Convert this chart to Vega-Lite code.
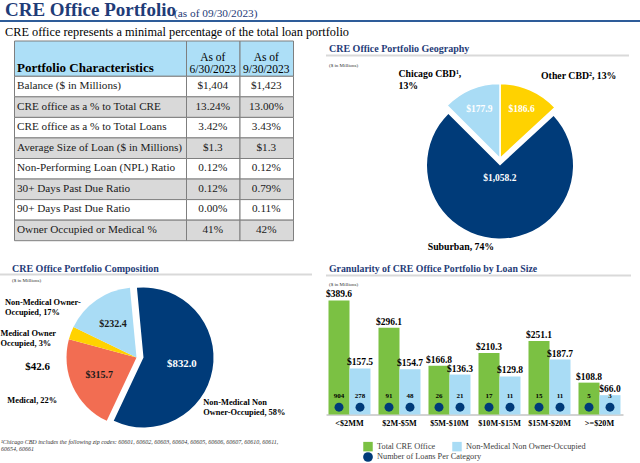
{
  "$schema": "https://vega.github.io/schema/vega-lite/v6.json",
  "background": "white",
  "padding": 0,
  "config": {
    "view": {"stroke": null},
    "font": "Liberation Serif",
    "title": {"font": "Liberation Serif", "anchor": "start", "color": "#1F3C78", "fontWeight": "bold", "fontSize": 10, "offset": 3, "baseline": "alphabetic", "frame": "group"},
    "text": {"font": "Liberation Serif"}
  },
  "datasets": {
    "cells": [
      {"row": 0, "col": 0, "text": "Portfolio Characteristics"},
      {"row": 0, "col": 1, "text": "As of\n6/30/2023"},
      {"row": 0, "col": 2, "text": "As of\n9/30/2023"},
      {"row": 1, "col": 0, "text": "Balance ($ in Millions)"},
      {"row": 1, "col": 1, "text": "$1,404"},
      {"row": 1, "col": 2, "text": "$1,423"},
      {"row": 2, "col": 0, "text": "CRE office as a % to Total CRE"},
      {"row": 2, "col": 1, "text": "13.24%"},
      {"row": 2, "col": 2, "text": "13.00%"},
      {"row": 3, "col": 0, "text": "CRE office as a % to Total Loans"},
      {"row": 3, "col": 1, "text": "3.42%"},
      {"row": 3, "col": 2, "text": "3.43%"},
      {"row": 4, "col": 0, "text": "Average Size of Loan ($ in Millions)"},
      {"row": 4, "col": 1, "text": "$1.3"},
      {"row": 4, "col": 2, "text": "$1.3"},
      {"row": 5, "col": 0, "text": "Non-Performing Loan (NPL) Ratio"},
      {"row": 5, "col": 1, "text": "0.12%"},
      {"row": 5, "col": 2, "text": "0.12%"},
      {"row": 6, "col": 0, "text": "30+ Days Past Due Ratio"},
      {"row": 6, "col": 1, "text": "0.12%"},
      {"row": 6, "col": 2, "text": "0.79%"},
      {"row": 7, "col": 0, "text": "90+ Days Past Due Ratio"},
      {"row": 7, "col": 1, "text": "0.00%"},
      {"row": 7, "col": 2, "text": "0.11%"},
      {"row": 8, "col": 0, "text": "Owner Occupied or Medical %"},
      {"row": 8, "col": 1, "text": "41%"},
      {"row": 8, "col": 2, "text": "42%"}
    ],
    "geo": [
      {"cat": "Other CBD", "value": 186.6, "ord": 1, "val": "$186.6", "lab": "Other CBD², 13%"},
      {"cat": "Suburban", "value": 1058.2, "ord": 2, "val": "$1,058.2", "lab": "Suburban, 74%"},
      {"cat": "Chicago CBD", "value": 177.9, "ord": 3, "val": "$177.9", "lab": "Chicago CBD¹,\n13%"}
    ],
    "comp": [
      {"cat": "Non-Medical Non Owner-Occupied", "value": 832.0, "ord": 1, "val": "$832.0", "lab": "Non-Medical Non\nOwner-Occupied, 58%"},
      {"cat": "Medical", "value": 315.7, "ord": 2, "val": "$315.7", "lab": "Medical, 22%"},
      {"cat": "Medical Owner Occupied", "value": 42.6, "ord": 3, "val": "$42.6", "lab": "Medical Owner\nOccupied, 3%"},
      {"cat": "Non-Medical Owner-Occupied", "value": 232.4, "ord": 4, "val": "$232.4", "lab": "Non-Medical Owner-\nOccupied, 17%"}
    ],
    "bars": [
      {"size": "<$2MM", "series": "Total CRE Office", "value": 389.6, "n": 904},
      {"size": "<$2MM", "series": "Non-Medical Non Owner-Occupied", "value": 157.5, "n": 278},
      {"size": "$2M-$5M", "series": "Total CRE Office", "value": 296.1, "n": 91},
      {"size": "$2M-$5M", "series": "Non-Medical Non Owner-Occupied", "value": 154.7, "n": 48},
      {"size": "$5M-$10M", "series": "Total CRE Office", "value": 166.8, "n": 26},
      {"size": "$5M-$10M", "series": "Non-Medical Non Owner-Occupied", "value": 136.3, "n": 21},
      {"size": "$10M-$15M", "series": "Total CRE Office", "value": 210.3, "n": 17},
      {"size": "$10M-$15M", "series": "Non-Medical Non Owner-Occupied", "value": 129.8, "n": 11},
      {"size": "$15M-$20M", "series": "Total CRE Office", "value": 251.1, "n": 15},
      {"size": "$15M-$20M", "series": "Non-Medical Non Owner-Occupied", "value": 187.7, "n": 11},
      {"size": ">=$20M", "series": "Total CRE Office", "value": 108.8, "n": 5},
      {"size": ">=$20M", "series": "Non-Medical Non Owner-Occupied", "value": 66.0, "n": 3}
    ]
  },
  "spacing": 2.5,
  "resolve": {"scale": {"color": "independent", "theta": "independent", "shape": "independent"}, "legend": {"color": "independent", "shape": "independent"}},
  "vconcat": [
    {
      "spacing": 0,
      "bounds": "flush",
      "title": {"text": "CRE office represents a minimal percentage of the total loan portfolio", "orient": "bottom", "fontSize": 12.3, "fontWeight": "normal", "color": "black", "dx": 5, "offset": -0.5},
      "hconcat": [
        {"width": 172, "height": 2, "view": {"fill": "#2E5C99", "stroke": null}, "data": {"values": [{}]}, "mark": "text",
         "title": {"text": "CRE Office Portfolio", "fontSize": 19, "dx": 5, "offset": -4.5}},
        {"width": 468, "height": 2, "view": {"fill": "#2E5C99", "stroke": null}, "data": {"values": [{}]}, "mark": "text",
         "title": {"text": "(as of 09/30/2023)", "fontSize": 11.3, "fontWeight": "normal", "dx": 2, "offset": -4.5}}
      ]
    },
    {
      "spacing": 13,
      "resolve": {"scale": {"color": "independent", "theta": "independent", "shape": "independent"}, "legend": {"color": "independent", "shape": "independent"}},
      "hconcat": [
        {
          "spacing": 0,
          "bounds": "flush",
          "vconcat": [
            {"width": 293, "height": 199.7, "data": {"name": "cells"},
             "encoding": {
               "x": {"field": "col", "type": "quantitative", "bin": {"step": 1, "extent": [0, 3]}, "axis": null,
                     "scale": {"domain": [0, 1, 2, 3], "range": [14, 186, 239.5, 293], "zero": false, "nice": false}},
               "y": {"field": "row", "type": "quantitative", "bin": {"step": 1, "extent": [0, 9]}, "axis": null,
                     "scale": {"domain": [0, 1, 9], "range": [0, 35.3, 199.7], "zero": false, "nice": false}}
             },
             "layer": [
               {"mark": {"type": "rect", "stroke": "#7F7F7F", "strokeWidth": 1},
                "encoding": {"fill": {"condition": [{"test": "datum.row === 0", "value": "#ADDFF7"}, {"test": "datum.row % 2 === 0", "value": "#D9D9D9"}], "value": "white"}}},
               {"transform": [{"filter": "datum.col === 0 && datum.row > 0"}],
                "mark": {"type": "text", "align": "left", "dx": -83, "fontSize": 11.2, "color": "#1a1a1a"},
                "encoding": {"text": {"field": "text"}}},
               {"transform": [{"filter": "datum.col > 0 && datum.row > 0"}],
                "mark": {"type": "text", "fontSize": 11.2, "color": "#1a1a1a"},
                "encoding": {"text": {"field": "text"}}},
               {"transform": [{"filter": "datum.col === 0 && datum.row === 0"}],
                "mark": {"type": "text", "align": "left", "baseline": "alphabetic", "dx": -83, "dy": 13.6, "fontSize": 13, "fontWeight": "bold", "color": "black"},
                "encoding": {"text": {"field": "text"}}},
               {"transform": [{"filter": "datum.col > 0 && datum.row === 0"}],
                "mark": {"type": "text", "fontSize": 11.5, "lineBreak": "\n", "lineHeight": 12, "baseline": "middle", "color": "black"},
                "encoding": {"text": {"field": "text"}}}
             ]},
            {"width": 1, "height": 32.6, "data": {"values": [{}]}, "mark": "text"},
            {"width": 312, "height": 2, "view": {"fill": "#D9D9D9", "stroke": null}, "data": {"values": [{}]}, "mark": "text",
             "title": {"text": "CRE Office Portfolio Composition", "dx": 12, "offset": -5}},
            {"width": 1, "height": 9.7, "data": {"values": [{}]}, "mark": "text"},
            {"width": 280, "height": 144,
             "title": {"text": "($ in Millions)", "fontSize": 5, "fontWeight": "normal", "color": "#333333", "dx": 12, "offset": 3},
             "data": {"name": "comp"},
             "encoding": {
               "theta": {"field": "value", "type": "quantitative", "stack": true, "scale": {"range": [-0.094, 6.189]}},
               "order": {"field": "ord", "type": "quantitative"},
               "detail": {"field": "cat"}
             },
             "layer": [
               {"mark": {"type": "arc", "outerRadius": 70, "xOffset": 3.5},
                "encoding": {"color": {"field": "cat", "type": "nominal", "legend": null,
                                       "scale": {"domain": ["Non-Medical Non Owner-Occupied", "Medical", "Medical Owner Occupied", "Non-Medical Owner-Occupied"], "range": ["#003B79", "#F26D52", "#FFD200", "#A9DCF5"]}},
                             "opacity": {"condition": {"test": "datum.ord === 1", "value": 1}, "value": 0}}},
               {"mark": {"type": "arc", "outerRadius": 70, "xOffset": -3.5},
                "encoding": {"color": {"field": "cat", "type": "nominal", "legend": null},
                             "opacity": {"condition": {"test": "datum.ord !== 1", "value": 1}, "value": 0}}},
               {"mark": {"type": "text", "radius": 39, "xOffset": 3.5, "fontSize": 10.8, "fontWeight": "bold", "color": "white"},
                "encoding": {"text": {"condition": {"test": "datum.ord === 1", "field": "val"}, "value": ""}}},
               {"mark": {"type": "text", "radius": 41, "xOffset": -3.5, "fontSize": 10, "fontWeight": "bold", "color": "#1a1a1a"},
                "encoding": {"text": {"condition": {"test": "datum.ord === 2 || datum.ord === 4", "field": "val"}, "value": ""}}},
               {"mark": {"type": "text", "radius": 0, "align": "left", "baseline": "top", "dx": -135, "dy": -59.5, "fontSize": 8.4, "lineHeight": 10.2, "fontWeight": "bold", "color": "black", "lineBreak": "\n"},
                "encoding": {"text": {"condition": {"test": "datum.ord === 4", "field": "lab"}, "value": ""}}},
               {"mark": {"type": "text", "radius": 0, "align": "left", "baseline": "top", "dx": -139.5, "dy": -28.5, "fontSize": 8.4, "lineHeight": 9.5, "fontWeight": "bold", "color": "black", "lineBreak": "\n"},
                "encoding": {"text": {"condition": {"test": "datum.ord === 3", "field": "lab"}, "value": ""}}},
               {"mark": {"type": "text", "radius": 0, "align": "right", "baseline": "middle", "dx": -90, "dy": 9.3, "fontSize": 11, "fontWeight": "bold", "color": "black"},
                "encoding": {"text": {"condition": {"test": "datum.ord === 3", "field": "val"}, "value": ""}}},
               {"mark": {"type": "text", "radius": 0, "align": "left", "baseline": "middle", "dx": -132.7, "dy": 42, "fontSize": 8.4, "fontWeight": "bold", "color": "black"},
                "encoding": {"text": {"condition": {"test": "datum.ord === 2", "field": "lab"}, "value": ""}}},
               {"mark": {"type": "text", "radius": 0, "align": "left", "baseline": "top", "dx": 63.3, "dy": 40, "fontSize": 8.4, "lineHeight": 10, "fontWeight": "bold", "color": "black", "lineBreak": "\n"},
                "encoding": {"text": {"condition": {"test": "datum.ord === 1", "field": "lab"}, "value": ""}}}
             ]},
            {"width": 1, "height": 8, "data": {"values": [{}]}, "mark": "text"},
            {"width": 300, "height": 1, "data": {"values": [{}]}, "mark": "text",
             "title": {"text": ["¹Chicago CBD includes the following zip codes: 60601, 60602, 60603, 60604, 60605, 60606, 60607, 60610, 60611,", "60654, 60661"], "orient": "bottom", "baseline": "top", "lineHeight": 7, "fontSize": 6, "fontStyle": "italic", "fontWeight": "normal", "color": "#333333", "dx": 1, "offset": -4}}
          ]
        },
        {
          "spacing": 0,
          "bounds": "flush",
          "resolve": {"scale": {"color": "independent", "theta": "independent", "shape": "independent"}, "legend": {"color": "independent", "shape": "independent"}},
          "vconcat": [
            {"width": 1, "height": 14, "view": {"fill": "white", "stroke": null}, "data": {"values": [{}]}, "mark": "text"},
            {"width": 303, "height": 2, "view": {"fill": "#D9D9D9", "stroke": null}, "data": {"values": [{}]}, "mark": "text",
             "title": {"text": "CRE Office Portfolio Geography", "dx": 3, "offset": -4.5}},
            {"width": 1, "height": 9, "data": {"values": [{}]}, "mark": "text"},
            {"width": 303, "height": 196,
             "title": {"text": "($ in Millions)", "fontSize": 5, "fontWeight": "normal", "color": "#333333", "dx": 3, "offset": -2},
             "data": {"name": "geo"},
             "encoding": {
               "theta": {"field": "value", "type": "quantitative", "stack": true},
               "order": {"field": "ord", "type": "quantitative"},
               "detail": {"field": "cat"}
             },
             "layer": [
               {"mark": {"type": "arc", "outerRadius": 73, "xOffset": 22.5, "yOffset": 2},
                "encoding": {"color": {"field": "cat", "type": "nominal", "legend": null,
                                       "scale": {"domain": ["Other CBD", "Suburban", "Chicago CBD"], "range": ["#FFD200", "#003B79", "#A9DCF5"]}},
                             "opacity": {"condition": {"test": "datum.ord === 2", "value": 1}, "value": 0}}},
               {"mark": {"type": "arc", "outerRadius": 75, "xOffset": 22.5, "yOffset": -5, "stroke": "white", "strokeWidth": 1.5},
                "encoding": {"color": {"field": "cat", "type": "nominal", "legend": null},
                             "opacity": {"condition": {"test": "datum.ord !== 2", "value": 1}, "value": 0}}},
               {"mark": {"type": "text", "radius": 54, "xOffset": 22.5, "yOffset": -5, "fontSize": 9.5, "fontWeight": "bold", "color": "white"},
                "encoding": {"text": {"condition": {"test": "datum.ord !== 2", "field": "val"}, "value": ""}}},
               {"mark": {"type": "text", "radius": 13, "xOffset": 22.5, "yOffset": 2, "fontSize": 9.5, "fontWeight": "bold", "color": "white"},
                "encoding": {"text": {"condition": {"test": "datum.ord === 2", "field": "val"}, "value": ""}}},
               {"mark": {"type": "text", "radius": 0, "xOffset": 22.5, "align": "left", "baseline": "top", "dx": -101.5, "dy": -95, "fontSize": 9.8, "lineHeight": 12, "fontWeight": "bold", "color": "black", "lineBreak": "\n"},
                "encoding": {"text": {"condition": {"test": "datum.ord === 3", "field": "lab"}, "value": ""}}},
               {"mark": {"type": "text", "radius": 0, "xOffset": 22.5, "align": "left", "baseline": "top", "dx": 41, "dy": -93, "fontSize": 9.8, "fontWeight": "bold", "color": "black"},
                "encoding": {"text": {"condition": {"test": "datum.ord === 1", "field": "lab"}, "value": ""}}},
               {"mark": {"type": "text", "radius": 0, "xOffset": 22.5, "align": "left", "baseline": "top", "dx": -72.3, "dy": 78, "fontSize": 9.8, "fontWeight": "bold", "color": "black"},
                "encoding": {"text": {"condition": {"test": "datum.ord === 2", "field": "lab"}, "value": ""}}}
             ]},
            {"width": 1, "height": 12.7, "data": {"values": [{}]}, "mark": "text"},
            {"width": 305, "height": 2, "view": {"fill": "#D9D9D9", "stroke": null}, "data": {"values": [{}]}, "mark": "text",
             "title": {"text": "Granularity of CRE Office Portfolio by Loan Size", "fontSize": 9.8, "dx": 3, "offset": -4}},
            {"width": 1, "height": 14.3, "data": {"values": [{}]}, "mark": "text"},
            {"width": 297, "height": 123,
             "title": {"text": "($ in Millions)", "fontSize": 5, "fontWeight": "normal", "color": "#333333", "dx": 3, "offset": 2},
             "data": {"name": "bars"},
             "encoding": {
               "x": {"field": "size", "type": "nominal", "sort": null, "scale": {"paddingInner": 0.16, "paddingOuter": 0.05},
                     "axis": {"title": null, "labelAngle": 0, "labelFont": "Liberation Serif", "labelFontSize": 8.2, "labelFontWeight": "bold", "labelColor": "black", "domainColor": "#A6A6A6", "ticks": false, "labelPadding": 5}},
               "xOffset": {"field": "series", "type": "nominal", "sort": ["Total CRE Office", "Non-Medical Non Owner-Occupied"]}
             },
             "layer": [
               {"mark": {"type": "bar"},
                "encoding": {
                  "y": {"field": "value", "type": "quantitative", "axis": null, "scale": {"domain": [0, 420], "nice": false}},
                  "color": {"field": "series", "type": "nominal",
                            "scale": {"domain": ["Total CRE Office", "Non-Medical Non Owner-Occupied"], "range": ["#7BC143", "#A9DCF5"]},
                            "legend": {"title": null, "orient": "none", "legendX": 37, "legendY": 150, "padding": 0, "direction": "horizontal",
                                       "labelFont": "Liberation Serif", "labelFontSize": 8.3, "labelColor": "#404040", "symbolSize": 90, "symbolType": "square",
                                       "columnPadding": 16, "symbolStrokeWidth": 0}}
                }},
               {"mark": {"type": "text", "dy": -6, "fontSize": 9.5, "fontWeight": "bold", "color": "black"},
                "encoding": {"y": {"field": "value", "type": "quantitative"}, "text": {"field": "value", "type": "quantitative", "format": "$.1f"}}},
               {"mark": {"type": "point", "filled": true, "size": 80, "opacity": 1, "color": "#003B79"},
                "encoding": {"y": {"datum": 25, "type": "quantitative"},
                             "shape": {"datum": "Number of Loans Per Category", "scale": {"range": ["circle"]},
                                       "legend": {"title": null, "orient": "none", "legendX": 37, "legendY": 160.5, "padding": 0,
                                                  "labelFont": "Liberation Serif", "labelFontSize": 8.3, "labelColor": "#404040", "symbolSize": 95,
                                                  "symbolFillColor": "#003B79", "symbolStrokeColor": "#003B79", "symbolStrokeWidth": 0}}}},
               {"mark": {"type": "text", "fontSize": 7, "fontWeight": "bold", "color": "black"},
                "encoding": {"y": {"datum": 63, "type": "quantitative"}, "text": {"field": "n", "type": "quantitative"}}}
             ]}
          ]
        }
      ]
    }
  ]
}
